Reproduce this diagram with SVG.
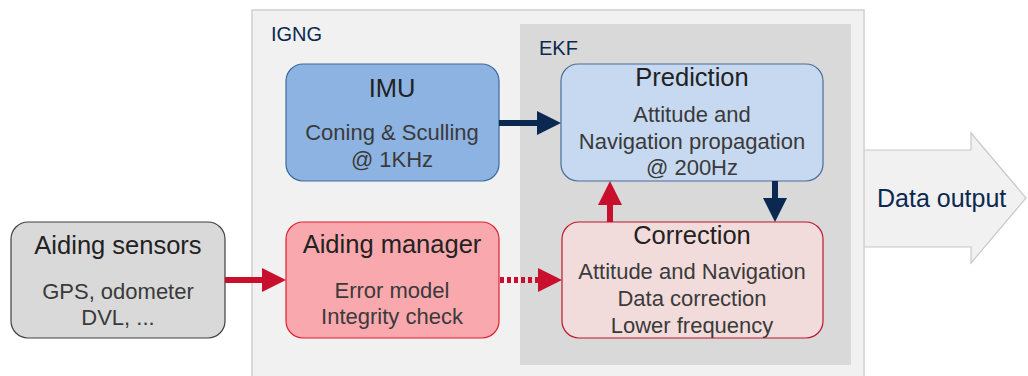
<svg xmlns="http://www.w3.org/2000/svg" width="1028" height="376" viewBox="0 0 1028 376">
<style>
text{font-family:"Liberation Sans","Noto Sans",sans-serif;text-anchor:middle;fill:#333}
.t{font-size:25.5px;fill:#222}
.s{font-size:22px;fill:#3a3a3a}
.lab{font-size:20px;fill:#0b2850;text-anchor:start}
.box{stroke-width:1.2}
</style>
<defs>
<marker id="an" markerWidth="4" markerHeight="4" refX="0" refY="2" orient="auto" markerUnits="strokeWidth" viewBox="0 0 4 4"><path d="M0,0 L4,2 L0,4Z" fill="#0b2850"/></marker>
<marker id="ar" markerWidth="4" markerHeight="4" refX="0" refY="2" orient="auto" markerUnits="strokeWidth" viewBox="0 0 4 4"><path d="M0,0 L4,2 L0,4Z" fill="#c8102e"/></marker>
</defs>
<rect width="1028" height="376" fill="#fff"/>
<g id="data-output">
<path d="M850,150 H971 V133 L1026,198 L971,263 V247 H850Z" fill="#f1f1f1" stroke="#c8c8c8" stroke-width="1.2"/>
<text class="lab" x="877" y="207" style="font-size:25px">Data output</text>
</g>
<g id="igng">
<rect x="252" y="10" width="612" height="380" fill="#f1f1f1" stroke="#d0d0d0" stroke-width="1.5"/>
<text class="lab" x="271" y="41">IGNG</text>
</g>
<g id="ekf">
<rect x="520" y="24" width="331" height="341" fill="#d9d9d9"/>
<text class="lab" x="539" y="55">EKF</text>
</g>
<g id="imu">
<rect class="box" x="286" y="64" width="213" height="117" rx="17" fill="#8db3e2" stroke="#3d6a9c"/>
<text class="t" x="392" y="97">IMU</text>
<text class="s" x="392" y="140">Coning &amp; Sculling</text>
<text class="s" x="392" y="167">@ 1KHz</text>
</g>
<g id="prediction">
<rect class="box" x="561" y="64" width="262" height="117" rx="17" fill="#c6d9f0" stroke="#4a6d9a"/>
<text class="t" x="692" y="86">Prediction</text>
<text class="s" x="692" y="122">Attitude and</text>
<text class="s" x="692" y="149">Navigation propagation</text>
<text class="s" x="692" y="175">@ 200Hz</text>
</g>
<g id="correction">
<rect class="box" x="562" y="222" width="261" height="116" rx="17" fill="#f2dcdb" stroke="#c0142c"/>
<text class="t" x="692" y="244">Correction</text>
<text class="s" x="692" y="279">Attitude and Navigation</text>
<text class="s" x="692" y="306">Data correction</text>
<text class="s" x="692" y="333">Lower frequency</text>
</g>
<g id="aiding-manager">
<rect class="box" x="286" y="222" width="213" height="116" rx="17" fill="#f9a8ae" stroke="#e0202c"/>
<text class="t" x="392" y="253">Aiding manager</text>
<text class="s" x="392" y="298">Error model</text>
<text class="s" x="392" y="324">Integrity check</text>
</g>
<g id="aiding-sensors">
<rect class="box" x="11" y="222" width="214" height="116" rx="17" fill="#d9d9d9" stroke="#404040"/>
<text class="t" x="118" y="254">Aiding sensors</text>
<text class="s" x="118" y="299">GPS, odometer</text>
<text class="s" x="118" y="325">DVL, ...</text>
</g>
<g id="connectors" fill="none" stroke-width="6">
<path d="M499,123 H537" stroke="#0b2850" marker-end="url(#an)"/>
<path d="M225,280 H262" stroke="#c8102e" marker-end="url(#ar)"/>
<path d="M500,280 H538" stroke="#c8102e" stroke-dasharray="4,3" marker-end="url(#ar)"/>
<path d="M610,222 V205" stroke="#c8102e" marker-end="url(#ar)"/>
<path d="M775,181 V198" stroke="#0b2850" marker-end="url(#an)"/>
</g>
</svg>
